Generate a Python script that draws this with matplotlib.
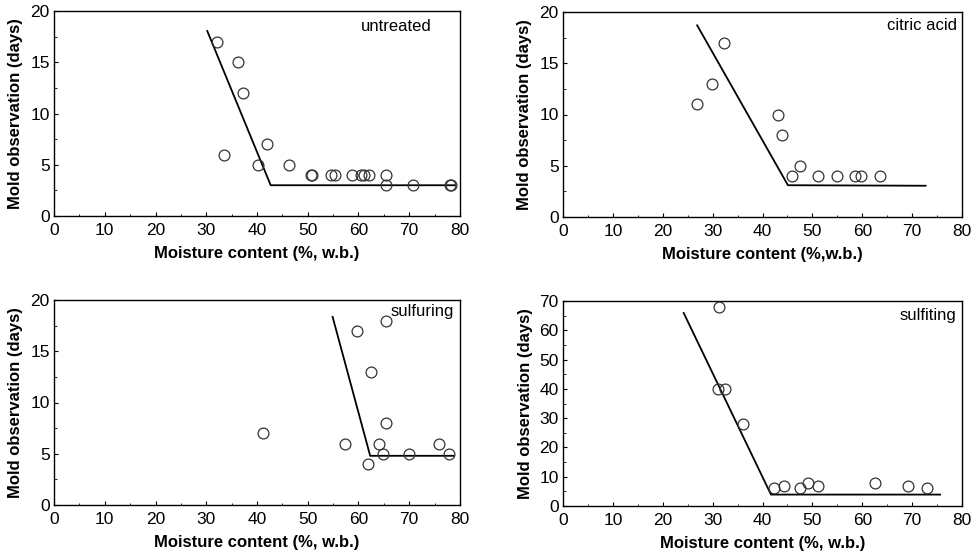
import matplotlib
matplotlib.use("Agg")
import matplotlib.pyplot as plt
from matplotlib.ticker import MultipleLocator, AutoMinorLocator

plt.rcParams['font.family'] = ['Liberation Sans', 'DejaVu Sans']

# ---- untreated ----
untreated_mc = [32.2, 36.3, 37.3, 33.4, 40.1, 41.9, 46.4, 50.6, 50.8, 54.6, 55.4,
                58.8, 60.5, 61.0, 62.1, 65.4, 65.4, 70.7, 78.0, 78.2]
untreated_days = [17, 15, 12, 6, 5, 7, 5, 4, 4, 4, 4,
                  4, 4, 4, 4, 4, 3, 3, 3, 3]
untreated_fit_x = [30.2, 42.7, 79.0]
untreated_fit_y = [18.05, 3.0, 3.0]

# ---- citric acid ----
citric_mc = [26.8, 29.8, 32.2, 43.1, 43.9, 45.9, 47.5, 51.1, 55.0, 58.6, 59.8, 63.6]
citric_days = [11, 13, 17, 10, 8, 4, 5, 4, 4, 4, 4, 4]
citric_fit_x = [26.9, 45.1, 72.7]
citric_fit_y = [18.7, 3.1, 3.05]

# ---- sulfuring ----
sulfuring_mc = [41.2, 57.4, 59.8, 62.5, 65.4, 65.5, 64.0, 64.9, 61.9, 69.9, 75.9, 77.9]
sulfuring_days = [7, 6, 17, 13, 18, 8, 6, 5, 4, 5, 6, 5]
sulfuring_fit_x = [54.9, 62.3, 78.7]
sulfuring_fit_y = [18.35, 4.8, 4.8]

# ---- sulfiting ----
sulfiting_mc = [31.3, 31.0, 32.4, 36.1, 42.4, 44.4, 47.6, 49.2, 51.2, 62.5, 69.1, 73.0]
sulfiting_days = [68, 40, 40, 28, 6, 7, 6, 8, 7, 8, 7, 6]
sulfiting_fit_x = [24.2, 41.7, 75.6]
sulfiting_fit_y = [65.9, 3.9, 3.9]

panels = [
    dict(rect=[54/976, 1-216/556, 406/976, 205/556], x=untreated_mc, y=untreated_days,
         fx=untreated_fit_x, fy=untreated_fit_y, ymax=20, ystep=5,
         name="untreated", tx=74.5, ty=18.5, xlabel="Moisture content (%, w.b.)"),
    dict(rect=[563/976, 1-217/556, 399/976, 205/556], x=citric_mc, y=citric_days,
         fx=citric_fit_x, fy=citric_fit_y, ymax=20, ystep=5,
         name="citric acid", tx=79.0, ty=18.7, xlabel="Moisture content (%,w.b.)"),
    dict(rect=[54/976, 1-505/556, 406/976, 205/556], x=sulfuring_mc, y=sulfuring_days,
         fx=sulfuring_fit_x, fy=sulfuring_fit_y, ymax=20, ystep=5,
         name="sulfuring", tx=78.8, ty=18.9, xlabel="Moisture content (%, w.b.)"),
    dict(rect=[563/976, 1-506/556, 399/976, 205/556], x=sulfiting_mc, y=sulfiting_days,
         fx=sulfiting_fit_x, fy=sulfiting_fit_y, ymax=70, ystep=10,
         name="sulfiting", tx=78.8, ty=64.9, xlabel="Moisture content (%, w.b.)"),
]

fig = plt.figure(figsize=(9.76, 5.56), dpi=100)

for p in panels:
    ax = fig.add_axes(p["rect"])
    ax.plot(p["fx"], p["fy"], color="black", lw=1.3, zorder=2)
    ax.plot(p["x"], p["y"], linestyle="none", marker="o", ms=7.8,
            mfc="none", mec="#333333", mew=0.9, zorder=3)
    ax.set_xlim(0, 80)
    ax.set_ylim(0, p["ymax"])
    ax.xaxis.set_major_locator(MultipleLocator(10))
    ax.yaxis.set_major_locator(MultipleLocator(p["ystep"]))
    ax.xaxis.set_minor_locator(AutoMinorLocator(2))
    ax.yaxis.set_minor_locator(AutoMinorLocator(2))
    ax.tick_params(which="both", direction="in", top=False, right=False,
                   labelsize=12.5)
    ax.tick_params(axis="x", pad=5)
    ax.tick_params(axis="y", pad=3)
    ax.tick_params(which="major", length=3, width=0.8)
    ax.tick_params(which="minor", length=1.8, width=0.6)
    for s in ax.spines.values():
        s.set_linewidth(1.0)
    ax.set_xlabel(p["xlabel"], fontsize=12, fontweight="bold", labelpad=6)
    ax.set_ylabel("Mold observation (days)", fontsize=12, fontweight="bold", labelpad=5)
    ax.text(p["tx"], p["ty"], p["name"], ha="right", va="center", fontsize=12)

fig.savefig("out.png", dpi=100)
